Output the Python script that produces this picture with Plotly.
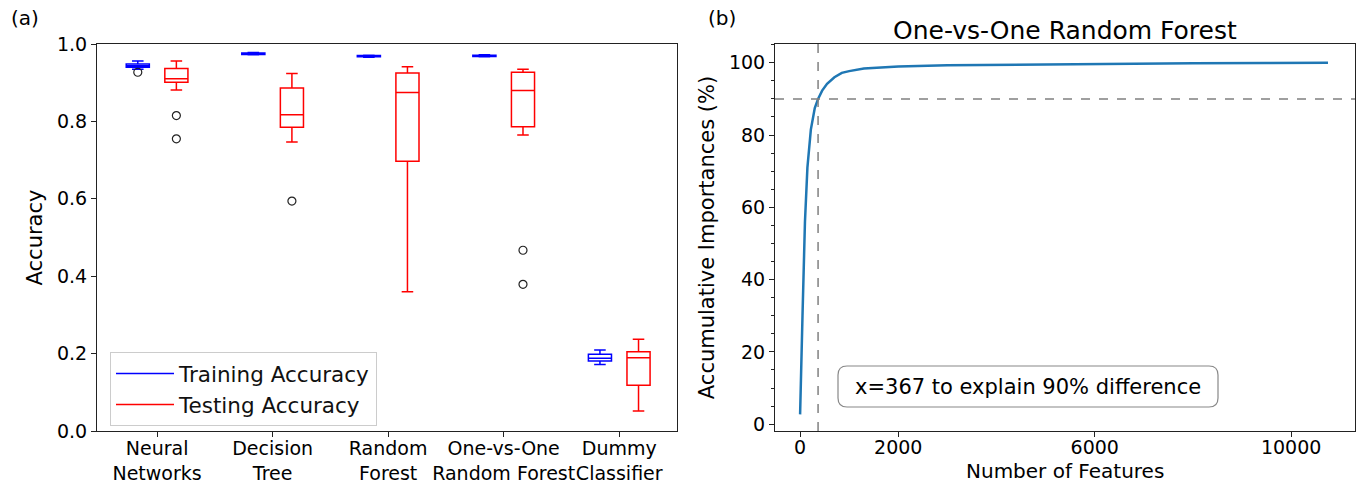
import plotly.graph_objects as go

# ---------------- data: panel (a) ----------------
categories = ["Neural<br>Networks", "Decision<br>Tree", "Random<br>Forest",
              "One-vs-One<br>Random Forest", "Dummy<br>Classifier"]

train_q1 = [0.940, 0.973, 0.967, 0.968, 0.181]
train_median = [0.944, 0.975, 0.969, 0.969, 0.188]
train_q3 = [0.948, 0.977, 0.970, 0.971, 0.198]
train_lower = [0.935, 0.972, 0.966, 0.967, 0.172]
train_upper = [0.956, 0.978, 0.971, 0.972, 0.209]
train_outliers = [[0.927], [], [], [], []]

test_q1 = [0.901, 0.785, 0.697, 0.786, 0.118]
test_median = [0.910, 0.817, 0.875, 0.880, 0.189]
test_q3 = [0.937, 0.886, 0.925, 0.927, 0.205]
test_lower = [0.881, 0.747, 0.360, 0.765, 0.052]
test_upper = [0.956, 0.924, 0.941, 0.935, 0.237]
test_outliers = [[0.815, 0.755], [0.594], [], [0.467, 0.379], []]

# ---------------- data: panel (b) ----------------
n_features = [1, 10, 25, 50, 75, 100, 150, 220, 300, 367, 450, 550, 700, 850,
              1000, 1300, 1650, 2000, 3000, 4000, 5000, 6500, 8000, 9500, 10750]
cum_importance = [2.7, 9, 18, 30, 43, 56, 71, 81.5, 87.5, 90, 92.3, 94.2, 96.0, 97.2,
                  97.7, 98.4, 98.7, 99.0, 99.3, 99.45, 99.6, 99.75, 99.85, 99.93, 100.0]
threshold_x = 367
threshold_pct = 90
x2_ticks = [0, 2000, 6000, 10000]

# ---------------- layout constants ----------------
W, H = 1357, 484
FONT = "DejaVu Sans"
AX = "#222222"
TRAIN_C = "#0000ff"
TEST_C = "#ff0000"
OFF = 0.167
BW = 0.2

fig = go.Figure()
pos = list(range(1, len(categories) + 1))


def add_box(q1, med, q3, lo, up, outl, color, sign):
    xs = [p + sign * OFF for p in pos]
    fig.add_trace(go.Box(
        x=xs, q1=q1, median=med, q3=q3, lowerfence=lo, upperfence=up,
        width=BW, whiskerwidth=0.5, boxpoints=False,
        line=dict(color=color, width=1.5), fillcolor="rgba(0,0,0,0)",
        showlegend=False, hoverinfo="skip", xaxis="x", yaxis="y"))
    ox, oy = [], []
    for x, vals in zip(xs, outl):
        for v in vals:
            ox.append(x)
            oy.append(v)
    fig.add_trace(go.Scatter(
        x=ox, y=oy, mode="markers", showlegend=False, xaxis="x", yaxis="y",
        marker=dict(symbol="circle-open", size=8, color="#222222", line=dict(width=1.2))))


add_box(train_q1, train_median, train_q3, train_lower, train_upper, train_outliers, TRAIN_C, -1)
add_box(test_q1, test_median, test_q3, test_lower, test_upper, test_outliers, TEST_C, +1)

# legend proxies
fig.add_trace(go.Scatter(x=[None], y=[None], mode="lines", name="Training Accuracy",
                         line=dict(color=TRAIN_C, width=1.5), xaxis="x", yaxis="y"))
fig.add_trace(go.Scatter(x=[None], y=[None], mode="lines", name="Testing Accuracy",
                         line=dict(color=TEST_C, width=1.5), xaxis="x", yaxis="y"))

# panel (b) curve
fig.add_trace(go.Scatter(x=n_features, y=cum_importance, mode="lines", showlegend=False,
                         line=dict(color="#1f77b4", width=2.5), xaxis="x2", yaxis="y2"))

axis_common = dict(showline=True, mirror=True, linecolor=AX, linewidth=1,
                   ticks="outside", ticklen=5, tickwidth=1, tickcolor=AX,
                   showgrid=False, zeroline=False, automargin=False,
                   tickfont=dict(family=FONT, size=19, color="black"))

y_dom = [1 - 431 / H, 1 - 44 / H]

fig.update_layout(
    width=W, height=H, margin=dict(l=0, r=0, t=0, b=0),
    paper_bgcolor="white", plot_bgcolor="white",
    font=dict(family=FONT, color="black"),
    showlegend=True,
    legend=dict(x=110 / W, y=1 - 352 / H, xanchor="left", yanchor="top",
                bgcolor="rgba(255,255,255,0.8)", bordercolor="#cccccc", borderwidth=1,
                tracegroupgap=0, itemwidth=58,
                font=dict(family=FONT, size=21.5, color="#111111")),
    xaxis=dict(domain=[97 / W, 677 / W], range=[0.48, 5.5], tickvals=pos,
               ticktext=categories, tickangle=0, anchor="y", ticklabelstandoff=-5,
               **axis_common),
    yaxis=dict(domain=y_dom, range=[0, 1.0], tickvals=[0, 0.2, 0.4, 0.6, 0.8, 1.0],
               tickformat=".1f", anchor="x",
               title=dict(text="Accuracy", font=dict(family=FONT, size=21), standoff=8),
               **axis_common),
    xaxis2=dict(domain=[775 / W, 1355 / W], range=[-510, 11300], tickvals=x2_ticks,
                ticktext=[str(v) for v in x2_ticks], tickangle=0, anchor="y2",
                ticklabelstandoff=-6, **axis_common),
    yaxis2=dict(domain=y_dom, range=[-1.9, 105.2], dtick=20, anchor="x2",
                minor=dict(dtick=5, ticks="outside", ticklen=3, tickcolor=AX),
                title=dict(text="Accumulative Importances (%)", font=dict(family=FONT, size=21),
                           standoff=8),
                **axis_common),
)

# x2 axis title placed as annotation below tick labels
fig.add_annotation(xref="x2 domain", yref="paper", x=0.5, y=1 - 471 / H,
                   text="Number of Features", showarrow=False, borderpad=0,
                   xanchor="center", yanchor="middle",
                   font=dict(family=FONT, size=20, color="black"))

# threshold dashed lines
fig.add_shape(type="line", xref="x2", yref="y2 domain", x0=threshold_x, x1=threshold_x,
              y0=0, y1=1, line=dict(color="#808080", width=1.5, dash="dash"))
fig.add_shape(type="line", xref="x2 domain", yref="y2", x0=0, x1=1,
              y0=threshold_pct, y1=threshold_pct,
              line=dict(color="#808080", width=1.5, dash="dash"))

# rounded text box (paper coords from pixel box)
l, r, t, b, rad = 838, 1218, 366, 407, 9


def P(px, py):
    return f"{px / W:.5f},{1 - py / H:.5f}"


path = (f"M {P(l + rad, t)} L {P(r - rad, t)} Q {P(r, t)} {P(r, t + rad)} "
        f"L {P(r, b - rad)} Q {P(r, b)} {P(r - rad, b)} L {P(l + rad, b)} "
        f"Q {P(l, b)} {P(l, b - rad)} L {P(l, t + rad)} Q {P(l, t)} {P(l + rad, t)} Z")
fig.add_shape(type="path", xref="paper", yref="paper", path=path,
              line=dict(color="#888888", width=1.2), fillcolor="white", layer="above")

fig.add_annotation(xref="paper", yref="paper", x=(l + r) / 2 / W, y=1 - (t + b) / 2 / H,
                   text=f"x={threshold_x} to explain {threshold_pct}% difference",
                   showarrow=False, xanchor="center", yanchor="middle",
                   font=dict(family=FONT, size=21, color="black"))

# titles / panel labels
fig.add_annotation(xref="paper", yref="paper", x=1065 / W, y=1 - 30 / H,
                   text="One-vs-One Random Forest", showarrow=False,
                   xanchor="center", yanchor="middle",
                   font=dict(family=FONT, size=25, color="black"))
fig.add_annotation(xref="paper", yref="paper", x=25 / W, y=1 - 18 / H, text="(a)",
                   showarrow=False, xanchor="center", yanchor="middle",
                   font=dict(family=FONT, size=20, color="black"))
fig.add_annotation(xref="paper", yref="paper", x=722 / W, y=1 - 18 / H, text="(b)",
                   showarrow=False, xanchor="center", yanchor="middle",
                   font=dict(family=FONT, size=20, color="black"))

fig.write_html("out.html")
